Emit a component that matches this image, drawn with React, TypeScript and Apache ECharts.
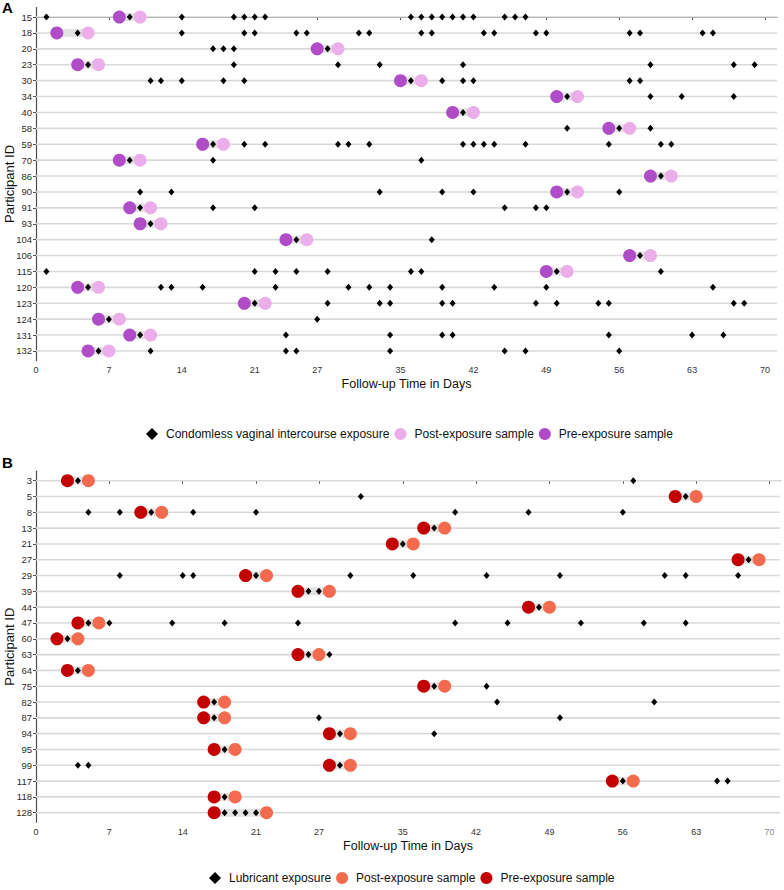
import React, { useEffect, useRef } from "react";
import * as echarts from "echarts";

const xTicks = [0, 7, 14, 21, 27, 35, 42, 49, 56, 63, 70];

const idsA = ["15", "18", "20", "23", "30", "34", "40", "58", "59", "70", "86", "90", "91", "93", "104", "106", "115", "120", "123", "124", "131", "132"];
const preA = [8, 2, 27, 4, 35, 50, 40, 55, 16, 8, 59, 50, 9, 10, 24, 57, 49, 4, 20, 6, 9, 5];
const postA = [10, 5, 29, 6, 37, 52, 42, 57, 18, 10, 61, 52, 11, 12, 26, 59, 51, 6, 22, 8, 11, 7];
const exposuresA = [
  [1, 9, 14, 19, 20, 21, 22, 36, 37, 38, 39, 40, 41, 42, 45, 46, 47],
  [4, 14, 20, 21, 25, 26, 31, 32, 37, 38, 43, 44, 48, 49, 57, 58, 64, 65],
  [17, 18, 19, 28],
  [5, 19, 29, 33, 41, 59, 67, 69],
  [11, 12, 14, 18, 20, 36, 39, 41, 42, 57, 58],
  [51, 59, 62, 67],
  [41],
  [51, 56, 59],
  [17, 20, 22, 29, 30, 32, 41, 42, 43, 44, 47, 55, 60, 61],
  [9, 17, 37],
  [60],
  [10, 13, 33, 39, 42, 51, 56],
  [10, 17, 21, 45, 48, 49],
  [11],
  [25, 38],
  [58],
  [1, 21, 23, 25, 28, 36, 37, 50, 60],
  [5, 12, 13, 16, 23, 30, 32, 34, 39, 44, 49, 65],
  [21, 28, 33, 34, 39, 40, 48, 50, 54, 55, 67, 68],
  [7, 27],
  [10, 24, 34, 39, 40, 55, 63, 66],
  [6, 11, 24, 25, 34, 45, 47, 56],
];

const idsB = ["3", "5", "8", "13", "21", "27", "29", "39", "44", "47", "60", "63", "64", "75", "82", "87", "94", "95", "99", "117", "118", "128"];
const preB = [3, 61, 10, 37, 34, 67, 20, 25, 47, 4, 2, 25, 3, 37, 16, 16, 28, 17, 28, 55, 17, 17];
const postB = [5, 63, 12, 39, 36, 69, 22, 28, 49, 6, 4, 27, 5, 39, 18, 18, 30, 19, 30, 57, 19, 22];
const exposuresB = [
  [4, 57],
  [31, 62],
  [5, 8, 11, 15, 21, 40, 47, 56],
  [38],
  [35],
  [68],
  [8, 14, 15, 21, 30, 36, 43, 50, 60, 62, 67],
  [26, 27],
  [48],
  [5, 7, 13, 18, 25, 40, 45, 52, 58, 62],
  [3],
  [26, 28],
  [4],
  [38, 43],
  [17, 44, 59],
  [17, 27, 50],
  [29, 38],
  [18],
  [4, 5, 29],
  [56, 65, 66],
  [18],
  [18, 19, 20, 21],
];

const exposureNameA = "Condomless vaginal intercourse exposure";
const exposureNameB = "Lubricant exposure";

const FONT = "Liberation Sans, Arial, sans-serif";

function buildPanel(
  idx: number,
  ids: string[],
  pre: number[],
  post: number[],
  exp: number[][],
  expName: string,
  postName: string,
  preName: string,
  preColor: string,
  postColor: string,
  xMax: number,
  grayLast: boolean
) {
  const rowIdx = ids.map((_, i) => i);
  const xAxis = {
    type: "value",
    gridIndex: idx,
    min: 0,
    max: xMax,
    splitLine: { show: false },
    axisLine: { show: true, lineStyle: { color: "#4d4d4d", width: 1.2 } },
    axisTick: { show: true, customValues: xTicks, length: 3, lineStyle: { color: "#4d4d4d" } },
    axisLabel: {
      customValues: xTicks,
      fontSize: 9,
      color: "#333",
      fontFamily: FONT,
      margin: 5,
      formatter: (v: number) => (grayLast && v === 70 ? "{g|70}" : String(v)),
      rich: { g: { color: "#8a8a8a", fontSize: 9, fontFamily: FONT } },
    },
    name: "Follow-up Time in Days",
    nameLocation: "middle",
    nameGap: 17,
    nameMoveOverlap: false,
    nameTextStyle: { fontSize: 12.5, color: "#111", fontFamily: FONT },
  };
  const yAxis = {
    type: "value",
    gridIndex: idx,
    min: -0.6,
    max: ids.length - 0.4,
    inverse: true,
    splitLine: { show: false },
    axisLine: { show: true, lineStyle: { color: "#4d4d4d", width: 1.2 } },
    axisTick: { show: true, customValues: rowIdx, length: 3, lineStyle: { color: "#4d4d4d" } },
    axisLabel: {
      customValues: rowIdx,
      fontSize: 9.5,
      color: "#2b2b2b",
      fontFamily: FONT,
      margin: 4,
      formatter: (v: number) => ids[Math.round(v)] ?? "",
    },
    name: "Participant ID",
    nameLocation: "middle",
    nameRotate: 90,
    nameGap: 20,
    nameMoveOverlap: false,
    nameTextStyle: { fontSize: 13, color: "#111", fontFamily: FONT },
  };
  const series: any[] = [
    {
      type: "custom",
      xAxisIndex: idx,
      yAxisIndex: idx,
      silent: true,
      encode: { x: 0, y: 1 },
      data: rowIdx.map((i) => [0, i]),
      renderItem: (params: any, api: any) => {
        const cs = params.coordSys;
        const y = api.coord([0, api.value(1)])[1];
        return {
          type: "line",
          shape: { x1: cs.x, y1: y, x2: cs.x + cs.width, y2: y },
          style: { stroke: "#d9d9d9", lineWidth: 1.6 },
        };
      },
    },
    {
      type: "custom",
      xAxisIndex: idx,
      yAxisIndex: idx,
      silent: true,
      encode: { x: [0, 1], y: 2 },
      data: pre.map((p, i) => [p, post[i], i]),
      renderItem: (params: any, api: any) => {
        const a = api.coord([api.value(0), api.value(2)]);
        const b = api.coord([api.value(1), api.value(2)]);
        return {
          type: "rect",
          shape: { x: a[0], y: a[1] - 4, width: b[0] - a[0], height: 8 },
          style: { fill: "#e2e2e2" },
        };
      },
    },
    {
      type: "scatter",
      name: postName,
      xAxisIndex: idx,
      yAxisIndex: idx,
      symbol: "circle",
      symbolSize: 13,
      itemStyle: { color: postColor, opacity: 1 },
      data: post.map((v, i) => [v, i]),
    },
    {
      type: "scatter",
      name: preName,
      xAxisIndex: idx,
      yAxisIndex: idx,
      symbol: "circle",
      symbolSize: 13,
      itemStyle: { color: preColor, opacity: 1 },
      data: pre.map((v, i) => [v, i]),
    },
    {
      type: "scatter",
      name: expName,
      xAxisIndex: idx,
      yAxisIndex: idx,
      symbol: "diamond",
      symbolSize: [6, 7],
      itemStyle: { color: "#000", opacity: 1 },
      data: exp.flatMap((arr, i) => arr.map((v) => [v, i])),
    },
  ];
  return { xAxis, yAxis, series };
}

export default function App() {
  const ref = useRef<HTMLDivElement>(null);
  useEffect(() => {
    if (!ref.current) return;
    const chart = echarts.init(ref.current, undefined, { renderer: "svg" });
    const pA = buildPanel(0, idsA, preA, postA, exposuresA, exposureNameA, "Post-exposure sample", "Pre-exposure sample", "#b04cc8", "#ebaeea", 71.15, false);
    const pB = buildPanel(1, idsB, preB, postB, exposuresB, exposureNameB, "Post-exposure sample (B)", "Pre-exposure sample (B)", "#c20000", "#f46a4e", 71.0, true);
    const legendCommon = {
      orient: "horizontal",
      itemWidth: 12,
      itemHeight: 12,
      itemGap: 5,
      padding: 0,
      selectedMode: false,
      textStyle: { fontSize: 12, color: "#111", fontFamily: FONT, padding: [0, 0, 0, 3] },
      formatter: (n: string) => n.replace(/ \(B\)$/, ""),
    };
    chart.setOption({
      animation: false,
      backgroundColor: "#fff",
      grid: [
        { left: 36, top: 7.5, width: 741, height: 353, outerBoundsMode: "none", containLabel: false },
        { left: 36, top: 471.2, width: 744, height: 351, outerBoundsMode: "none", containLabel: false },
      ],
      xAxis: [pA.xAxis, pB.xAxis],
      yAxis: [pA.yAxis, pB.yAxis],
      legend: [
        {
          ...legendCommon,
          left: 146,
          top: 428,
          data: [
            { name: exposureNameA, icon: "diamond" },
            { name: "Post-exposure sample", icon: "circle" },
            { name: "Pre-exposure sample", icon: "circle" },
          ],
        },
        {
          ...legendCommon,
          left: 209,
          top: 872,
          data: [
            { name: exposureNameB, icon: "diamond" },
            { name: "Post-exposure sample (B)", icon: "circle" },
            { name: "Pre-exposure sample (B)", icon: "circle" },
          ],
        },
      ],
      graphic: [
        { type: "text", left: 2, top: 0, style: { text: "A", fontSize: 15, fontWeight: "bold", fill: "#000", fontFamily: FONT } },
        { type: "text", left: 2, top: 455, style: { text: "B", fontSize: 15, fontWeight: "bold", fill: "#000", fontFamily: FONT } },
      ],
      series: [...pA.series, ...pB.series],
    });
    return () => chart.dispose();
  }, []);
  return <div ref={ref} style={{ position: "absolute", left: 0, top: 0, width: 784, height: 890 }} />;
}
